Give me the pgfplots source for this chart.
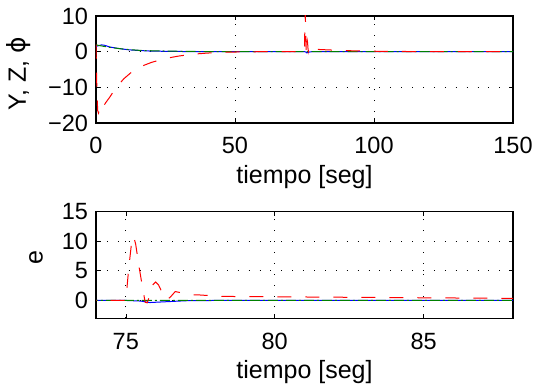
\documentclass[border=0pt]{standalone}
\usepackage{fontspec}
\setmainfont{Liberation Sans}
\newfontfamily\dejavu{DejaVu Sans}
\usepackage{pgfplots}
\usepackage{pgfplotstable}
\pgfplotsset{compat=1.18}
\definecolor{mred}{rgb}{1,0,0}
\definecolor{mblue}{rgb}{0,0,1}
\definecolor{mgreen}{rgb}{0,0.5,0}

\pgfplotstableread{
t y
0 2
0.15 -4
0.3 -10
0.6 -16.5
0.9 -17.2
1.3 -16.0
1.7 -16.8
2.5 -15.5
3.5 -14.3
5 -12.7
7 -10.3
10 -7.6
13 -5.6
16 -4.2
20 -3.0
25 -1.9
30 -1.2
35 -0.7
40 -0.4
45 -0.2
50 -0.1
60 0
74 0
75.0 0
75.1 5.5
75.2 10
75.26 10.8
75.33 9.5
75.45 5.5
75.55 2.5
75.65 -0.3
75.72 -0.4
75.8 0.8
75.9 2.6
76.0 3.1
76.1 2.6
76.25 1.0
76.38 0.1
76.5 0.6
76.66 1.5
76.85 1.3
77.1 0.9
77.4 0.95
77.7 0.85
78.3 0.68
79 0.65
80 0.62
82 0.55
85 0.45
88 0.35
92 0.25
100 0.12
110 0.05
120 0.02
150 0
}\redtab

\pgfplotstableread{
t y
0 1.5
1 1.7
2 1.9
3 1.8
5 1.3
8 0.9
12 0.5
16 0.3
20 0.15
30 0.05
40 0
74 0
75 0
75.5 -0.1
75.8 -0.35
76.2 -0.25
76.6 -0.15
77 -0.05
78 0
150 0
}\bluetab

\pgfplotstableread{
t y
0 1.9
2 1.6
5 1.2
10 0.7
15 0.4
20 0.25
30 0.1
40 0.02
50 0
74 0
76 0.03
88 0.02
150 0
}\greentab

\begin{document}
\fontsize{23.5}{28}\selectfont
\begin{tikzpicture}
\pgfplotsset{
 mystyle/.style={
  scale only axis, width=417pt, height=107pt,
  axis line style={line width=1.1pt},
  tick align=inside, major tick length=4.5pt,
  tick style={black, line width=0.6pt},
  grid=major,
  major grid style={black, line width=0.8pt, dash pattern=on 0.9pt off 10pt},
  /pgf/number format/assume math mode=true,
  tick label style={font=\fontsize{23.5}{28}\selectfont},
  label style={font=\fontsize{25}{30}\selectfont},
  xticklabel style={anchor=base, yshift=-31pt},
  xlabel style={at={(axis description cs:0.5,0)}, anchor=base, yshift=-60.7pt},
  clip=true,
 }
}
% top axis
\begin{axis}[mystyle,
  at={(96pt,267pt)}, anchor=south west,
  xmin=0, xmax=150, ymin=-20, ymax=10,
  xtick={0,50,100,150}, xticklabels={0,50,100,150},
  ytick={-20,-10,0,10}, yticklabels={−20,−10,0,10},
  xlabel={tiempo [seg]},
  ylabel={Y, Z, {\dejavu ϕ}},
  ylabel style={at={(axis description cs:-0.185,0.46)}, anchor=center},
]
\addplot[mblue, line width=1pt] table[x=t,y=y] {\bluetab};
\addplot[mgreen, line width=1pt, dash pattern=on 10pt off 3pt on 2pt off 3pt] table[x=t,y=y] {\greentab};
\addplot[mred, line width=1pt, dash pattern=on 14pt off 14pt] table[x=t,y=y] {\redtab};
\end{axis}
% bottom axis
\begin{axis}[mystyle,
  at={(96pt,71.7pt)}, anchor=south west,
  xmin=74, xmax=88, ymin=-3, ymax=15,
  xtick={75,80,85}, xticklabels={75,80,85},
  ytick={0,5,10,15}, yticklabels={0,5,10,15},
  xlabel={tiempo [seg]},
  ylabel={e},
  ylabel style={at={(axis description cs:-0.144,0.57)}, anchor=center},
]
\addplot[mblue, line width=1pt] table[x=t,y=y] {\bluetab};
\addplot[mgreen, line width=1pt, dash pattern=on 10pt off 3pt on 2pt off 3pt] table[x=t,y=y] {\greentab};
\addplot[mred, line width=1pt, dash pattern=on 14pt off 14pt] table[x=t,y=y] {\redtab};
\end{axis}
\pgfresetboundingbox
\useasboundingbox (0,0) rectangle (536pt,390pt);
\end{tikzpicture}
\end{document}
